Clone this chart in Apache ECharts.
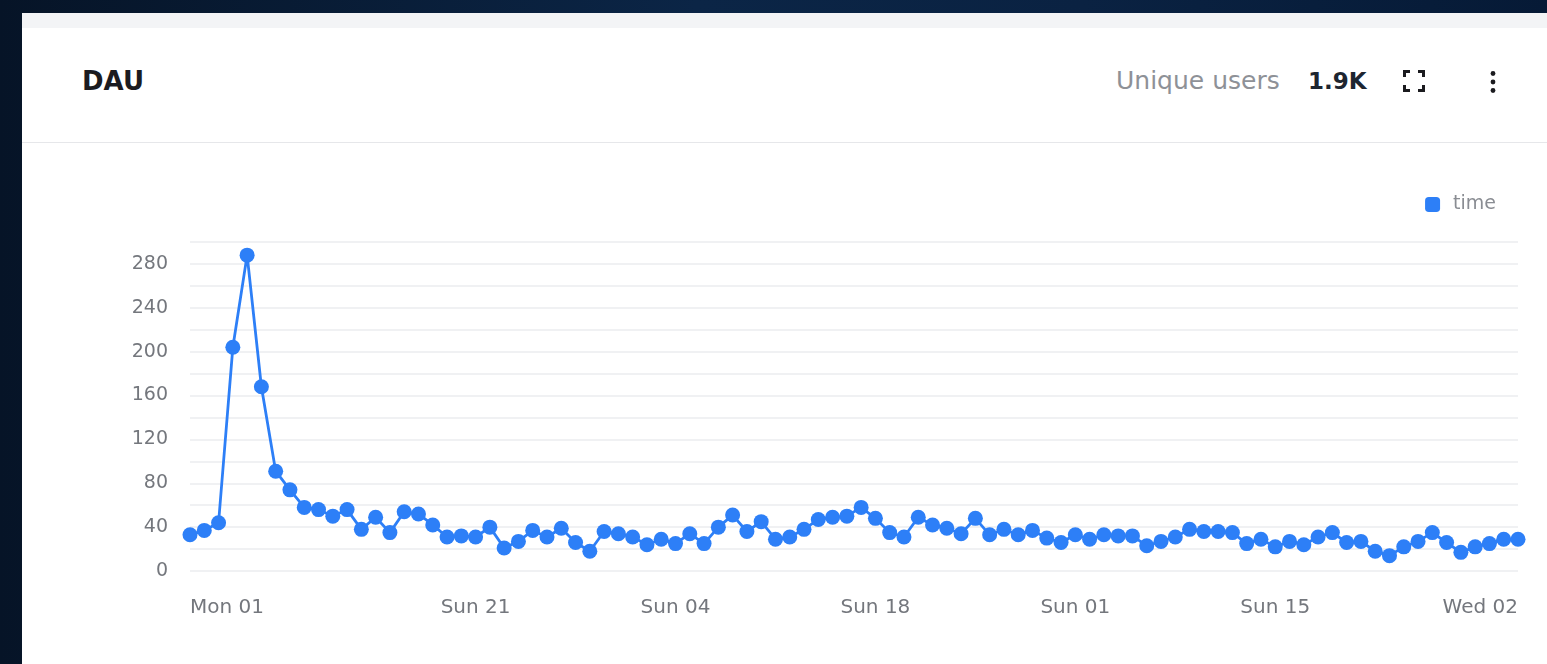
<!DOCTYPE html>
<html>
<head>
<meta charset="utf-8">
<script src="https://cdn.jsdelivr.net/npm/echarts@6/dist/echarts.min.js"></script>
<style>
  html, body { margin: 0; padding: 0; width: 1547px; height: 664px; overflow: hidden; }
  body { background: linear-gradient(90deg, #061427 0%, #0b2546 45%, #0a2242 70%, #061a36 100%); font-family: "DejaVu Sans", sans-serif; }
  #card { position: absolute; left: 22px; top: 13px; width: 1525px; height: 651px; background: #ffffff; }
  #band { position: absolute; left: 0; top: 0; width: 100%; height: 15px; background: #f3f4f6; }
  #sep { position: absolute; left: 0; top: 129px; width: 100%; height: 1px; background: #e6e7ea; }
  #title { position: absolute; left: 60px; top: 52px; font-size: 26px; line-height: 32px; font-weight: bold; color: #1b1b1f; }
  #uu { position: absolute; left: 1094px; top: 53px; font-size: 25px; line-height: 30px; color: #8e9197; }
  #uuv { position: absolute; left: 1286px; top: 53px; font-size: 23px; line-height: 30px; font-weight: bold; color: #1d2530; }
  #fs { position: absolute; left: 1381px; top: 57px; }
  #dots { position: absolute; left: 1467px; top: 57px; }
  #chart { position: absolute; left: 0; top: 0; width: 1547px; height: 664px; }
</style>
</head>
<body>
<div id="card">
  <div id="band"></div>
  <div id="title">DAU</div>
  <div id="uu">Unique users</div>
  <div id="uuv">1.9K</div>
  <svg id="fs" width="22" height="22" viewBox="0 0 22 22">
    <path d="M1.5 7 V1.5 H7 M15 1.5 H20.5 V7 M20.5 15 V20.5 H15 M7 20.5 H1.5 V15" fill="none" stroke="#1b1b1f" stroke-width="3"/>
  </svg>
  <svg id="dots" width="8" height="24" viewBox="0 0 8 24">
    <circle cx="4" cy="3.5" r="2.4" fill="#1b1b1f"/>
    <circle cx="4" cy="12" r="2.4" fill="#1b1b1f"/>
    <circle cx="4" cy="20.5" r="2.4" fill="#1b1b1f"/>
  </svg>
  <div id="sep"></div>
</div>
<div id="chart"></div>
<script>
// Dates: 2024-07-01 (Mon) .. 2024-10-02 (Wed), 94 days
var startDate = '2024-07-01';
var dayCount = 94;
var labelIndices = [0, 20, 34, 48, 62, 76, 93];
var values = [
  33, 37, 44, 204, 288, 168, 91, 74, 58, 56,
  50, 56, 38, 49, 35, 54, 52, 42, 31, 32,
  31, 40, 21, 27, 37, 31, 39, 26, 18, 36,
  34, 31, 24, 29, 25, 34, 25, 40, 51, 36,
  45, 29, 31, 38, 47, 49, 50, 58, 48, 35,
  31, 49, 42, 39, 34, 48, 33, 38, 33, 37,
  30, 26, 33, 29, 33, 32, 32, 23, 27, 31,
  38, 36, 36, 35, 25, 29, 22, 27, 24, 31,
  35, 26, 27, 18, 14, 22, 27, 35, 26, 17,
  22, 25, 29, 29
];
var seriesName = 'time';

var dayNames = ['Sun','Mon','Tue','Wed','Thu','Fri','Sat'];
var categories = [];
var d0 = new Date(startDate + 'T00:00:00Z');
for (var i = 0; i < dayCount; i++) {
  var d = new Date(d0.getTime() + i * 86400000);
  var dd = d.getUTCDate();
  categories.push(dayNames[d.getUTCDay()] + ' ' + (dd < 10 ? '0' + dd : '' + dd));
}

var chart = echarts.init(document.getElementById('chart'), null, { renderer: 'canvas' });
chart.setOption({
  animation: false,
  backgroundColor: 'transparent',
  legend: {
    data: [seriesName],
    right: 46,
    top: 190,
    icon: 'roundRect',
    itemWidth: 15,
    itemHeight: 15,
    itemGap: 10,
    textStyle: { color: '#8a8d93', fontSize: 19, fontFamily: 'DejaVu Sans', padding: [0, 0, 0, 8] }
  },
  grid: { left: 190, right: 29, top: 242, bottom: 93, containLabel: false },
  xAxis: {
    type: 'category',
    data: categories,
    boundaryGap: false,
    axisLine: { show: false },
    axisTick: { show: false },
    axisLabel: {
      interval: function (idx) { return labelIndices.indexOf(idx) >= 0; },
      color: '#74777d',
      fontSize: 20,
      fontFamily: 'DejaVu Sans',
      margin: 27,
      alignMinLabel: 'left',
      alignMaxLabel: 'right',
      showMinLabel: true,
      showMaxLabel: true
    },
    splitLine: { show: false }
  },
  yAxis: {
    type: 'value',
    min: 0,
    max: 300,
    interval: 20,
    axisLine: { show: false },
    axisTick: { show: false },
    axisLabel: {
      color: '#74777d',
      fontSize: 19,
      fontFamily: 'DejaVu Sans',
      margin: 22,
      formatter: function (v) { return (v % 40 === 0 && v < 300) ? String(v) : ''; }
    },
    splitLine: { show: true, lineStyle: { color: '#ebecef', width: 1.5 } }
  },
  series: [{
    name: seriesName,
    type: 'line',
    data: values,
    symbol: 'circle',
    symbolSize: 15,
    showAllSymbol: true,
    color: '#2d7ff7',
    lineStyle: { width: 2.8, color: '#2d7ff7' },
    itemStyle: { color: '#2d7ff7' }
  }]
});
</script>
</body>
</html>
